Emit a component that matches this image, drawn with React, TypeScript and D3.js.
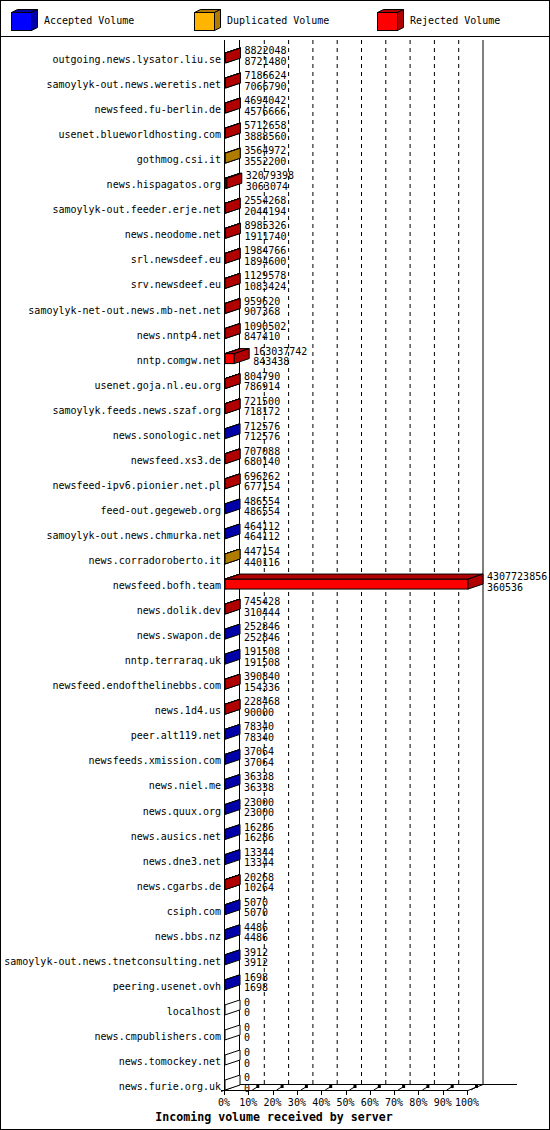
import * as d3 from 'd3';

// incoming volume per server, sorted by accepted volume
const servers = [
  'outgoing.news.lysator.liu.se', 'samoylyk-out.news.weretis.net', 'newsfeed.fu-berlin.de',
  'usenet.blueworldhosting.com', 'gothmog.csi.it', 'news.hispagatos.org',
  'samoylyk-out.feeder.erje.net', 'news.neodome.net', 'srl.newsdeef.eu', 'srv.newsdeef.eu',
  'samoylyk-net-out.news.mb-net.net', 'news.nntp4.net', 'nntp.comgw.net', 'usenet.goja.nl.eu.org',
  'samoylyk.feeds.news.szaf.org', 'news.sonologic.net', 'newsfeed.xs3.de',
  'newsfeed-ipv6.pionier.net.pl', 'feed-out.gegeweb.org', 'samoylyk-out.news.chmurka.net',
  'news.corradoroberto.it', 'newsfeed.bofh.team', 'news.dolik.dev', 'news.swapon.de',
  'nntp.terraraq.uk', 'newsfeed.endofthelinebbs.com', 'news.1d4.us', 'peer.alt119.net',
  'newsfeeds.xmission.com', 'news.niel.me', 'news.quux.org', 'news.ausics.net', 'news.dne3.net',
  'news.cgarbs.de', 'csiph.com', 'news.bbs.nz', 'samoylyk-out.news.tnetconsulting.net',
  'peering.usenet.ovh', 'localhost', 'news.cmpublishers.com', 'news.tomockey.net', 'news.furie.org.uk',
];

const totalVolume = [
  8822048, 7186624, 4694042, 5712658, 3564972, 32079398, 2554268, 8985326, 1984766, 1129578,
  959620, 1090502, 163037742, 804790, 721500, 712576, 707088, 696262, 486554, 464112,
  447154, 4307723856, 745428, 252846, 191508, 390840, 228468, 78340, 37064, 36338,
  23000, 16286, 13344, 20268, 5070, 4486, 3912, 1698, 0, 0, 0, 0,
];

const acceptedVolume = [
  8721480, 7066790, 4576666, 3888560, 3552200, 3063074, 2044194, 1911740, 1894600, 1083424,
  907368, 847410, 843438, 786914, 718172, 712576, 680140, 677154, 486554, 464112,
  440116, 360536, 310444, 252846, 191508, 154336, 90000, 78340, 37064, 36338,
  23000, 16286, 13344, 10264, 5070, 4486, 3912, 1698, 0, 0, 0, 0,
];

// servers where the extra volume is duplicated rather than rejected
const duplicatedRows = ['gothmog.csi.it', 'news.corradoroberto.it'];

const pctTicks = [0, 10, 20, 30, 40, 50, 60, 70, 80, 90, 100];

const legendItems = ['Accepted Volume', 'Duplicated Volume', 'Rejected Volume'];

const colors = {
  accepted: { front: '#0000ff', dark: '#0000a8' },
  duplicated: { front: '#ffb400', dark: '#b07c00' },
  rejected: { front: '#ff0000', dark: '#b00000' },
};
const legendColors = [colors.accepted, colors.duplicated, colors.rejected];

const W = 550;
const H = 1130;
const DX = 15;
const DY = -5;
const BAR_H = 10;
const FLOOR_Y = 1090;
const TOP_Y = 40;
const mono = '"DejaVu Sans Mono", "Liberation Mono", monospace';

const maxTotal = d3.max(totalVolume) || 1;

const x = d3.scaleLinear().domain([0, 100]).range([225, 468]);
const y = d3.scaleBand<string>()
  .domain(servers)
  .range([45.5, 45.5 + servers.length * 25.05])
  .padding(0);

const pts = (p: [number, number][]) => p.map(d => d.join(',')).join(' ');

function Segment({ x0, x1, t, front, dark }: { x0: number; x1: number; t: number; front: string; dark: string }) {
  const b = t + BAR_H;
  return (
    <g stroke="#000" strokeWidth={1} strokeLinejoin="miter">
      {x1 - x0 > 0.5 && <rect x={x0} y={t} width={x1 - x0} height={BAR_H} fill={front} />}
      <polygon points={pts([[x0, t], [x0 + DX, t + DY], [x1 + DX, t + DY], [x1, t]])} fill={dark} />
      <polygon points={pts([[x1, t], [x1 + DX, t + DY], [x1 + DX, b + DY], [x1, b]])} fill={dark} />
    </g>
  );
}

function Cube({ x0, y0, front, dark }: { x0: number; y0: number; front: string; dark: string }) {
  const w = 20, h = 18, dx = 6, dy = -3;
  return (
    <g stroke="#000" strokeWidth={1}>
      <polygon points={pts([[x0, y0], [x0 + dx, y0 + dy], [x0 + w + dx, y0 + dy], [x0 + w, y0]])} fill={dark} />
      <polygon points={pts([[x0 + w, y0], [x0 + w + dx, y0 + dy], [x0 + w + dx, y0 + h + dy], [x0 + w, y0 + h]])} fill={dark} />
      <rect x={x0} y={y0} width={w} height={h} fill={front} />
    </g>
  );
}

export default function App() {
  const legendX = [11, 194, 377];

  return (
    <div style={{ position: 'absolute', left: 0, top: 0 }}>
      <svg width={W} height={H} style={{ display: 'block', background: '#fff' }}>
        <rect x={0.5} y={0.5} width={W - 1} height={H - 1} fill="#fff" stroke="#000" />
        <line x1={0} x2={W} y1={36.5} y2={36.5} stroke="#000" />

        {/* legend */}
        {legendItems.map((name, i) => (
          <g key={name}>
            <Cube x0={legendX[i] + 0.5} y0={12.5} front={legendColors[i].front} dark={legendColors[i].dark} />
            <text x={legendX[i] + 33} y={24} fontFamily={mono} fontSize={10}>{name}</text>
          </g>
        ))}

        {/* back grid */}
        {pctTicks.slice(1, -1).map(p => (
          <line key={p} x1={x(p) + DX} x2={x(p) + DX} y1={TOP_Y} y2={FLOOR_Y + DY - 1}
            stroke="#000" strokeDasharray="4,4" />
        ))}
        <line x1={x(100) + DX} x2={x(100) + DX} y1={TOP_Y} y2={FLOOR_Y + DY - 1} stroke="#000" />
        <line x1={x(0) + DX - 0.5} x2={x(0) + DX - 0.5} y1={TOP_Y} y2={FLOOR_Y + DY - 1} stroke="#000" />
        <line x1={x(0) - 0.5} x2={x(0) - 0.5} y1={TOP_Y} y2={FLOOR_Y} stroke="#000" />

        {/* floor */}
        <line x1={x(0) + DX} x2={517} y1={FLOOR_Y + DY - 0.5} y2={FLOOR_Y + DY - 0.5} stroke="#000" />
        <line x1={x(0) - 4} x2={x(100)} y1={FLOOR_Y + 0.5} y2={FLOOR_Y + 0.5} stroke="#000" />
        <line x1={x(0) - 4} y1={FLOOR_Y + 1.5} x2={x(0) + DX} y2={FLOOR_Y + DY - 0.5} stroke="#000" />
        <line x1={x(100)} y1={FLOOR_Y + 0.5} x2={x(100) + DX} y2={FLOOR_Y + DY - 0.5} stroke="#000" />
        {pctTicks.map(p => (
          <g key={p}>
            <line x1={Math.round(x(p)) - 0.5} x2={Math.round(x(p)) - 0.5} y1={FLOOR_Y} y2={FLOOR_Y + 5} stroke="#000" />
            {p > 0 && (
              <>
                <line x1={x(p) + 3} y1={FLOOR_Y} x2={x(p) + 8} y2={FLOOR_Y - 3} stroke="#000" />
                <rect x={x(p) + 7} y={FLOOR_Y - 5} width={3} height={3} fill="#000" />
              </>
            )}
            <text x={x(p) - 1} y={FLOOR_Y + 16} textAnchor="middle" fontFamily={mono} fontSize={10}>{p}%</text>
          </g>
        ))}

        {/* bars */}
        {servers.map((s, i) => {
          const t = (y(s) ?? 0) + 7.5;
          const total = totalVolume[i];
          const acc = acceptedVolume[i];
          const xAcc = x((acc / maxTotal) * 100);
          const xTot = x((total / maxTotal) * 100);
          const extra = duplicatedRows.includes(s) ? colors.duplicated : colors.rejected;
          return (
            <g key={s}>
              {total === 0 ? (
                <polygon points={pts([[x(0), t], [x(0) + DX, t + DY], [x(0) + DX, t + BAR_H + DY], [x(0), t + BAR_H]])}
                  fill="#fff" stroke="#000" />
              ) : (
                <>
                  {acc > 0 && <Segment x0={x(0)} x1={xAcc} t={t} front={colors.accepted.front} dark={colors.accepted.dark} />}
                  {total > acc && <Segment x0={xAcc} x1={xTot} t={t} front={extra.front} dark={extra.dark} />}
                </>
              )}
              <text x={221} y={t + 10} textAnchor="end" fontFamily={mono} fontSize={10}>{s}</text>
              <text x={xTot + DX + 4} y={t + 1} fontFamily={mono} fontSize={10}>{total}</text>
              <text x={xTot + DX + 4} y={t + 11.5} fontFamily={mono} fontSize={10}>{acc}</text>
            </g>
          );
        })}

        <text x={274} y={1121} textAnchor="middle" fontFamily={mono} fontSize={11.6} fontWeight="bold">
          Incoming volume received by server
        </text>
      </svg>
    </div>
  );
}
